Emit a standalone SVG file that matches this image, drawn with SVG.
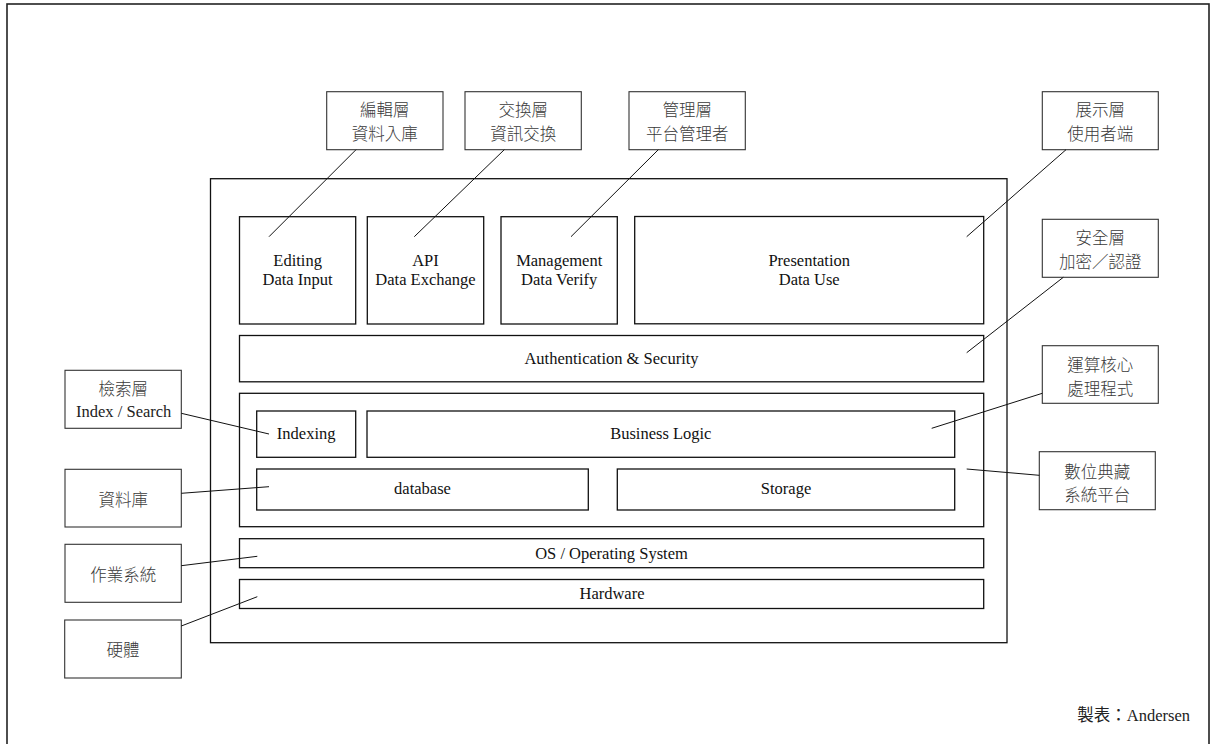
<svg xmlns="http://www.w3.org/2000/svg" width="1216" height="744" viewBox="0 0 1216 744">
<style>
.frame{fill:none;stroke:#222;stroke-width:1.6}
.box{fill:#fff;stroke:#111;stroke-width:1.3}
.cb{fill:#fff;stroke:#333;stroke-width:1.1}
.en{font-family:"Liberation Serif","Times New Roman",serif;font-size:16.5px;fill:#111;text-anchor:middle}
.zh{font-family:"Noto Sans CJK TC","Noto Sans CJK SC",sans-serif;font-size:16.5px;font-weight:300;fill:#3a3a3a;text-anchor:middle}
.lk{stroke:#111;stroke-width:1;fill:none}
</style>
<rect width="1216" height="744" fill="#fff"/>
<rect class="frame" x="7" y="4" width="1202" height="760"/>

<g id="platform"><rect class="box" x="210.5" y="178.7" width="796.5" height="464"/></g>

<g id="editing"><rect class="box" x="239.5" y="216.7" width="116.2" height="107.3"/>
<text class="en" x="297.6" y="265.7">Editing</text><text class="en" x="297.6" y="285">Data Input</text></g>
<g id="api"><rect class="box" x="367.3" y="216.7" width="116.4" height="107.3"/>
<text class="en" x="425.5" y="265.7">API</text><text class="en" x="425.5" y="285">Data Exchange</text></g>
<g id="management"><rect class="box" x="501" y="216.7" width="116.3" height="107.3"/>
<text class="en" x="559.2" y="265.7">Management</text><text class="en" x="559.2" y="285">Data Verify</text></g>
<g id="presentation"><rect class="box" x="634.7" y="216.5" width="349" height="107.3"/>
<text class="en" x="809.2" y="265.7">Presentation</text><text class="en" x="809.2" y="285">Data Use</text></g>
<g id="auth"><rect class="box" x="239.5" y="335.5" width="744.2" height="46.3"/>
<text class="en" x="611.5" y="364">Authentication &amp; Security</text></g>
<g id="core"><rect class="box" x="239.5" y="393.3" width="744.2" height="133.4"/></g>
<g id="indexing"><rect class="box" x="256.7" y="411" width="99" height="46.3"/>
<text class="en" x="306.2" y="439.3">Indexing</text></g>
<g id="business"><rect class="box" x="367" y="411" width="587.7" height="46.3"/>
<text class="en" x="660.8" y="438.8">Business Logic</text></g>
<g id="database"><rect class="box" x="256.7" y="469" width="331.6" height="41"/>
<text class="en" x="422.5" y="494">database</text></g>
<g id="storage"><rect class="box" x="617.3" y="469" width="337.4" height="41"/>
<text class="en" x="786" y="494">Storage</text></g>
<g id="os"><rect class="box" x="239.5" y="538.7" width="744.2" height="29"/>
<text class="en" x="611.5" y="558.5">OS / Operating System</text></g>
<g id="hardware"><rect class="box" x="239.5" y="579.5" width="744.2" height="29"/>
<text class="en" x="612" y="598.5">Hardware</text></g>

<g id="c-edit"><rect class="cb" x="326.7" y="91.7" width="116.3" height="58"/>
<text class="zh" x="384.8" y="116">編輯層</text><text class="zh" x="384.8" y="140">資料入庫</text></g>
<g id="c-api"><rect class="cb" x="465" y="91.7" width="116.3" height="58"/>
<text class="zh" x="523.2" y="116">交換層</text><text class="zh" x="523.2" y="140">資訊交換</text></g>
<g id="c-mgmt"><rect class="cb" x="629" y="91.7" width="116.3" height="58"/>
<text class="zh" x="687.2" y="116">管理層</text><text class="zh" x="687.2" y="140">平台管理者</text></g>
<g id="c-pres"><rect class="cb" x="1042.3" y="91.7" width="116" height="58"/>
<text class="zh" x="1100.3" y="116">展示層</text><text class="zh" x="1100.3" y="140">使用者端</text></g>
<g id="c-sec"><rect class="cb" x="1042.3" y="219.3" width="116" height="58"/>
<text class="zh" x="1100.3" y="244">安全層</text><text class="zh" x="1100.3" y="267.5">加密／認證</text></g>
<g id="c-core"><rect class="cb" x="1042.3" y="345.7" width="116" height="57.6"/>
<text class="zh" x="1100.3" y="371.3">運算核心</text><text class="zh" x="1100.3" y="394.5">處理程式</text></g>
<g id="c-dap"><rect class="cb" x="1039.3" y="451.7" width="116" height="58"/>
<text class="zh" x="1097.3" y="477.5">數位典藏</text><text class="zh" x="1097.3" y="500.8">系統平台</text></g>
<g id="c-index"><rect class="cb" x="65" y="370.3" width="116.3" height="58"/>
<text class="zh" x="123.2" y="394.6">檢索層</text><text class="en" x="123.7" y="416.7" style="fill:#222">Index / Search</text></g>
<g id="c-db"><rect class="cb" x="65" y="469.3" width="116.3" height="57.7"/>
<text class="zh" x="123.2" y="506.3">資料庫</text></g>
<g id="c-os"><rect class="cb" x="65" y="544.3" width="116.3" height="58"/>
<text class="zh" x="123.2" y="581.3">作業系統</text></g>
<g id="c-hw"><rect class="cb" x="64.7" y="620" width="116.6" height="58"/>
<text class="zh" x="123" y="656">硬體</text></g>

<g id="connectors">
<line class="lk" x1="356" y1="149.7" x2="269" y2="236.7"/>
<line class="lk" x1="504.3" y1="149.7" x2="414.3" y2="236.7"/>
<line class="lk" x1="658.3" y1="149.7" x2="571" y2="236.7"/>
<line class="lk" x1="1066" y1="149.7" x2="966.7" y2="236.7"/>
<line class="lk" x1="1063.3" y1="277.3" x2="966.7" y2="352.7"/>
<line class="lk" x1="1042.3" y1="393.3" x2="931.7" y2="428.3"/>
<line class="lk" x1="1039.3" y1="475.3" x2="966.7" y2="469"/>
<line class="lk" x1="181.3" y1="413.3" x2="269" y2="434"/>
<line class="lk" x1="181.3" y1="493.3" x2="269" y2="486.7"/>
<line class="lk" x1="181.3" y1="565.7" x2="257.3" y2="556.3"/>
<line class="lk" x1="181.3" y1="626" x2="257.3" y2="596.7"/>
</g>

<text x="1190" y="720.7" style="font-family:'Liberation Serif','Noto Sans CJK TC',serif;font-size:16.5px;fill:#222;text-anchor:end">製表：Andersen</text>
</svg>
